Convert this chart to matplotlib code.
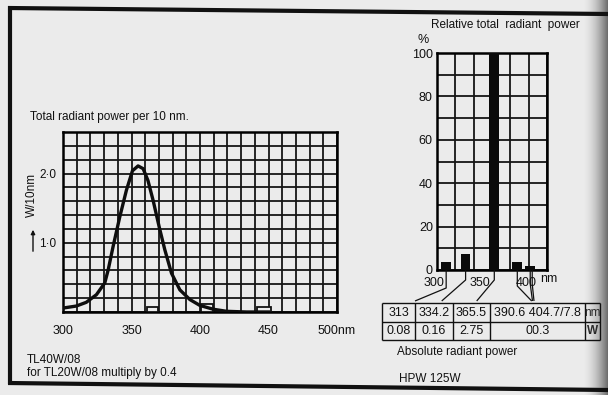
import numpy as np
import matplotlib
matplotlib.use("Agg")
import matplotlib.pyplot as plt
from matplotlib.lines import Line2D
from matplotlib.patches import FancyArrowPatch

plt.rcParams['font.family'] = ['Liberation Sans', 'DejaVu Sans']

# left chart: TL40W/08 spectrum (W per 10 nm)
curve_nm = [300, 301, 309.7, 317, 324.4, 330.5, 333, 336.5, 341.4, 346.3, 350.7, 354.8,
            358.5, 362, 365.8, 370.2, 374.3, 379.2, 385.3, 392.6, 399.9, 409.6, 419.4, 434, 450]
curve_w = [0.05, 0.06, 0.086, 0.14, 0.25, 0.42, 0.61, 0.94, 1.37, 1.76, 2.04, 2.11,
           2.07, 1.90, 1.61, 1.23, 0.90, 0.56, 0.32, 0.18, 0.095, 0.04, 0.01, 0.0, 0.0]
hg_nm = [365.5, 405.2, 446.8]
hg_width = [8, 8.5, 10.5]
hg_w = [0.07, 0.11, 0.07]
left_xticks = [300, 350, 400, 450, 500]
left_xlabels = ['300', '350', '400', '450', '500nm']
left_yticks = [1.0, 2.0]
left_ylabels = ['1·0', '2·0']

# right chart: HPW 125W relative line power (%)
bar_nm = [313, 334.2, 365.5, 390.6, 404.7]
bar_pct = [3.6, 7.6, 100, 3.8, 1.9]
right_xticks = [300, 350, 400]
right_yticks = [0, 20, 40, 60, 80, 100]

# table under right chart
table_nm = ['313', '334.2', '365.5', '390.6 404.7/7.8']
table_w = ['0.08', '0.16', '2.75', '00.3']
table_units = ['nm', 'W']

paper = '#ebebeb'
ink = '#111111'
W, H = 608, 395


def fx(px):
    return px / W


def fy(py):
    return 1 - py / H


def fline(xs, ys, lw=1.0):
    fig.add_artist(Line2D([fx(x) for x in xs], [fy(y) for y in ys], lw=lw,
                          color=ink, transform=fig.transFigure,
                          solid_capstyle='butt'))


def ftext(x, y, s, size=8.5, ha='left', **kw):
    kw.setdefault('color', ink)
    fig.text(fx(x), fy(y), s, fontsize=size, ha=ha, va='center', **kw)


fig = plt.figure(figsize=(6.08, 3.95), dpi=100, facecolor=paper)

# page shadow at the binding (right edge)
ax_sh = fig.add_axes([0, 0, 1, 1], zorder=-10)
ax_sh.axis('off')
ramp = np.clip((np.arange(W) - 582) / 26.0, 0, 1) ** 1.8 * 0.75
shade = np.zeros((1, W, 4))
shade[..., :3] = 0.22
shade[0, :, 3] = ramp
ax_sh.imshow(shade, extent=[0, 1, 0, 1], aspect='auto')

# frame
fline([10, 10], [6, 384], lw=3)
fline([8, 608], [8, 14], lw=3)
fline([8, 608], [383, 390], lw=3)

# ---- left chart
ax1 = fig.add_axes([fx(63), fy(312), (337 - 63) / W, (312 - 132) / H])
ax1.set_facecolor('none')
ax1.set_xlim(300, 500)
ax1.set_ylim(0, 2.6)
ax1.set_xticks(left_xticks)
ax1.set_xticklabels(left_xlabels)
ax1.set_yticks(left_yticks)
ax1.set_yticklabels(left_ylabels)
ax1.set_xticks(np.arange(300, 501, 10), minor=True)
ax1.set_yticks(np.arange(0, 2.61, 0.2), minor=True)
ax1.grid(True, which='both', color='#161616', lw=1.3)
ax1.tick_params(which='both', length=0, labelcolor=ink)
ax1.tick_params(axis='x', pad=9, labelsize=9)
ax1.tick_params(axis='y', pad=5, labelsize=8.5)
for s in ax1.spines.values():
    s.set_linewidth(1.8)
ax1.bar(hg_nm, hg_w, width=hg_width, color=paper, edgecolor=ink, lw=1.3, zorder=3)
ax1.plot(curve_nm, curve_w, color='#0d0d0d', lw=2.4, zorder=4)

ftext(30, 117, 'Total radiant power per 10 nm.')
ftext(32, 195, 'W/10nm', ha='center', rotation=90)
fig.add_artist(FancyArrowPatch(
    (fx(33), fy(254)), (fx(33), fy(227)), transform=fig.transFigure,
    arrowstyle='-|>', mutation_scale=6, lw=1.0, color=ink))
ftext(27, 360, 'TL40W/08')
ftext(27, 373, 'for TL20W/08 multiply by 0.4')

# ---- right chart
ax2 = fig.add_axes([fx(437), fy(270), (547 - 437) / W, (270 - 53) / H])
ax2.set_facecolor('none')
ax2.set_xlim(303, 423)
ax2.set_ylim(0, 100)
ax2.set_xticks(np.arange(303, 424, 20))
ax2.set_xticklabels([])
ax2.set_yticks(right_yticks)
ax2.set_yticks(np.arange(0, 101, 10), minor=True)
ax2.grid(True, which='both', color='#161616', lw=1.3)
ax2.tick_params(which='both', length=0, labelcolor=ink)
ax2.tick_params(axis='y', pad=3, labelsize=9)
for s in ax2.spines.values():
    s.set_linewidth(1.8)
ax2.bar(bar_nm, bar_pct, width=10.5, color='#0a0a0a', zorder=3)
for t in right_xticks:
    ax2.text(t, -3.0, str(t), ha='center', va='top', fontsize=9, color=ink,
             clip_on=False)
ftext(549, 279, 'nm', size=9, ha='center')
ftext(505, 25, 'Relative total  radiant  power', ha='center')
ftext(423, 40, '%', size=9, ha='center')

# connectors from bars down to the table columns
col_anchor = [415, 441.7, 476.7, 531.7, 532.5]
drop = [18, 10, 10, 16, 14]
for i, wl in enumerate(bar_nm):
    xb = ax2.transData.transform((wl, 0))[0] * W / fig.bbox.width
    ys = [270, 270 + drop[i], 301]
    fline([xb, xb, col_anchor[i]], ys, lw=0.9)
    if i == len(bar_nm) - 1:
        fline([xb + 2, xb + 2, col_anchor[i] + 1.5], ys, lw=0.9)

# table
col_edges = [382, 415, 453, 490, 585, 600]
row_edges = [303, 322, 340]
for y in row_edges:
    fline([col_edges[0], col_edges[-1]], [y, y], lw=1.0)
for x in col_edges:
    fline([x, x], [row_edges[0], row_edges[-1]], lw=1.0)
for i in range(len(table_nm)):
    xc = (col_edges[i] + col_edges[i + 1]) / 2
    ftext(xc, 312.5, table_nm[i], size=9, ha='center')
    ftext(xc, 331, table_w[i], size=9, ha='center')
ftext(592.5, 312.5, table_units[0], size=8.5, ha='center', color='#2a2a2a')
ftext(592.5, 331, table_units[1], size=8.5, ha='center', color='#2a2a2a',
      fontweight='bold')

ftext(397, 352, 'Absolute radiant power')
ftext(399, 379, 'HPW 125W')

fig.savefig('out.png', dpi=100, facecolor=paper)
